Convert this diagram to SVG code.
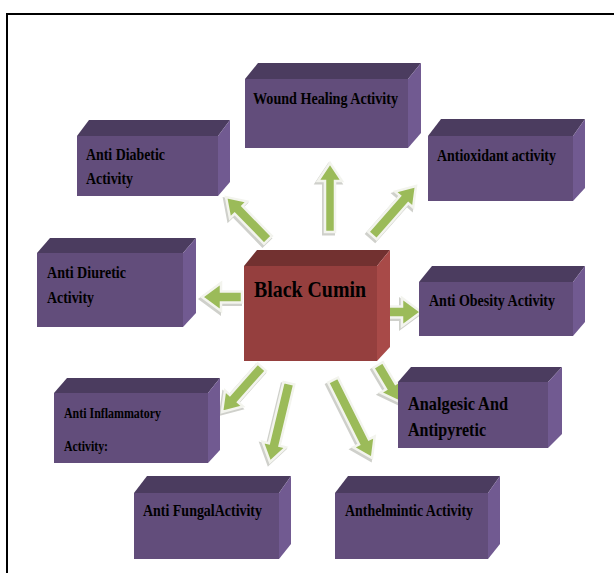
<svg xmlns="http://www.w3.org/2000/svg" xmlns:xlink="http://www.w3.org/1999/xlink" width="614" height="573" viewBox="0 0 614 573">
<style>
.front{fill:#624D7B}
.top{fill:#4B3C5F}
.side{fill:#715A91}
.bfront{fill:#953F3E}
.btop{fill:#723130}
.bside{fill:#A84A48}
.t{font-family:"Liberation Serif","Times New Roman",serif;font-weight:bold;fill:#000;font-size:16px}
.ash{fill:#cfd0cb;stroke:#cfd0cb;stroke-width:3;stroke-linejoin:miter}
.arr{fill:#9BBB59;stroke:#f3f4ee;stroke-width:2.5;stroke-linejoin:miter}
</style>
<defs>
<path id="a1" transform="translate(330,163) rotate(-90)" d="M0,0 L-18,-12 L-18,-5 L-69,-5 L-69,5 L-18,5 L-18,12 Z"/>
<path id="a2" transform="translate(416,186) rotate(-48.7)" d="M0,0 L-18,-12 L-18,-5.5 L-66,-5.5 L-66,5.5 L-18,5.5 L-18,12 Z"/>
<path id="a3" transform="translate(226,197) rotate(-134.3)" d="M0,0 L-18,-12 L-18,-5.5 L-60,-5.5 L-60,5.5 L-18,5.5 L-18,12 Z"/>
<path id="a4" transform="translate(202,297) rotate(180)" d="M0,0 L-19,-14 L-19,-5.5 L-40,-5.5 L-40,5.5 L-19,5.5 L-19,14 Z"/>
<path id="a5" transform="translate(421,312) rotate(0)" d="M0,0 L-19,-14 L-19,-5.5 L-34,-5.5 L-34,5.5 L-19,5.5 L-19,14 Z"/>
<path id="a6" transform="translate(400,402) rotate(59.3)" d="M0,0 L-18,-12 L-18,-5.5 L-43,-5.5 L-43,5.5 L-18,5.5 L-18,12 Z"/>
<path id="a7" transform="translate(222,412) rotate(131.6)" d="M0,0 L-18,-12 L-18,-5.5 L-60,-5.5 L-60,5.5 L-18,5.5 L-18,12 Z"/>
<path id="a8" transform="translate(270,462) rotate(103.5)" d="M0,0 L-18,-12 L-18,-5.5 L-81,-5.5 L-81,5.5 L-18,5.5 L-18,12 Z"/>
<path id="a9" transform="translate(372,458) rotate(63.4)" d="M0,0 L-18,-12 L-18,-5.5 L-87,-5.5 L-87,5.5 L-18,5.5 L-18,12 Z"/>
</defs>
<rect width="614" height="573" fill="#fff"/>
<path d="M7,573 L7,14 L614,14" fill="none" stroke="#000" stroke-width="2"/>

<g id="connectors">
<use xlink:href="#a1" href="#a1" class="ash" transform="translate(-1.5,2)"/><use xlink:href="#a1" href="#a1" class="arr"/>
<use xlink:href="#a2" href="#a2" class="ash" transform="translate(-1.5,2)"/><use xlink:href="#a2" href="#a2" class="arr"/>
<use xlink:href="#a3" href="#a3" class="ash" transform="translate(-1.5,2)"/><use xlink:href="#a3" href="#a3" class="arr"/>
<use xlink:href="#a4" href="#a4" class="ash" transform="translate(-1.5,2)"/><use xlink:href="#a4" href="#a4" class="arr"/>
<use xlink:href="#a5" href="#a5" class="ash" transform="translate(-1.5,2)"/><use xlink:href="#a5" href="#a5" class="arr"/>
<use xlink:href="#a6" href="#a6" class="ash" transform="translate(-1.5,2)"/><use xlink:href="#a6" href="#a6" class="arr"/>
<use xlink:href="#a7" href="#a7" class="ash" transform="translate(-1.5,2)"/><use xlink:href="#a7" href="#a7" class="arr"/>
<use xlink:href="#a8" href="#a8" class="ash" transform="translate(-1.5,2)"/><use xlink:href="#a8" href="#a8" class="arr"/>
<use xlink:href="#a9" href="#a9" class="ash" transform="translate(-1.5,2)"/><use xlink:href="#a9" href="#a9" class="arr"/>
</g>

<g id="wound-healing">
<polygon class="top" points="245,79 258,63 421,63 408,79"/>
<polygon class="side" points="408,79 421,63 421,133 408,148"/>
<rect class="front" x="245" y="79" width="163" height="69"/>
<text class="t" x="253" y="104" textLength="145" lengthAdjust="spacingAndGlyphs">Wound Healing Activity</text>
</g>

<g id="anti-diabetic">
<polygon class="top" points="77,136 89,120 230,120 218,136"/>
<polygon class="side" points="218,136 230,120 230,182 218,196"/>
<rect class="front" x="77" y="136" width="141" height="60"/>
<text class="t" x="86" y="160" textLength="79" lengthAdjust="spacingAndGlyphs">Anti Diabetic</text>
<text class="t" x="86" y="184" textLength="47" lengthAdjust="spacingAndGlyphs">Activity</text>
</g>

<g id="antioxidant">
<polygon class="top" points="428,136 441,119 585,119 573,136"/>
<polygon class="side" points="573,136 585,119 585,188 573,201"/>
<rect class="front" x="428" y="136" width="145" height="65"/>
<text class="t" x="437" y="161" textLength="119" lengthAdjust="spacingAndGlyphs">Antioxidant activity</text>
</g>

<g id="anti-diuretic">
<polygon class="top" points="37,253 50,238 196,238 183,253"/>
<polygon class="side" points="183,253 196,238 196,313 183,327"/>
<rect class="front" x="37" y="253" width="146" height="74"/>
<text class="t" x="47" y="278" textLength="79" lengthAdjust="spacingAndGlyphs">Anti Diuretic</text>
<text class="t" x="47" y="303" textLength="47" lengthAdjust="spacingAndGlyphs">Activity</text>
</g>

<g id="black-cumin">
<polygon class="btop" points="244,266 257,250 390,250 377,266"/>
<polygon class="bside" points="377,266 390,250 390,347 377,361"/>
<rect class="bfront" x="244" y="266" width="133" height="95"/>
<text class="t" x="254" y="297" style="font-size:24px" textLength="112" lengthAdjust="spacingAndGlyphs">Black Cumin</text>
</g>

<g id="anti-obesity">
<polygon class="top" points="419,282 432,266 585,266 573,282"/>
<polygon class="side" points="573,282 585,266 585,322 573,336"/>
<rect class="front" x="419" y="282" width="154" height="54"/>
<text class="t" x="429" y="306" textLength="126" lengthAdjust="spacingAndGlyphs">Anti Obesity Activity</text>
</g>

<g id="analgesic">
<polygon class="top" points="398,382 411,367 562,367 548,382"/>
<polygon class="side" points="548,382 562,367 562,434 548,448"/>
<rect class="front" x="398" y="382" width="150" height="66"/>
<text class="t" x="408" y="410" style="font-size:19px" textLength="100" lengthAdjust="spacingAndGlyphs">Analgesic And</text>
<text class="t" x="408" y="436" style="font-size:19px" textLength="78" lengthAdjust="spacingAndGlyphs">Antipyretic</text>
</g>

<g id="anti-inflammatory">
<polygon class="top" points="54,393 67,378 220,378 208,393"/>
<polygon class="side" points="208,393 220,378 220,450 208,463"/>
<rect class="front" x="54" y="393" width="154" height="70"/>
<text class="t" x="64" y="418" style="font-size:14px" textLength="97" lengthAdjust="spacingAndGlyphs">Anti Inflammatory</text>
<text class="t" x="64" y="451" style="font-size:14px" textLength="44" lengthAdjust="spacingAndGlyphs">Activity:</text>
</g>

<g id="anti-fungal">
<polygon class="top" points="134,493 147,476 291,476 279,493"/>
<polygon class="side" points="279,493 291,476 291,544 279,559"/>
<rect class="front" x="134" y="493" width="145" height="66"/>
<text class="t" x="143" y="516" textLength="119" lengthAdjust="spacingAndGlyphs">Anti FungalActivity</text>
</g>

<g id="anthelmintic">
<polygon class="top" points="335,493 348,476 500,476 488,493"/>
<polygon class="side" points="488,493 500,476 500,544 488,559"/>
<rect class="front" x="335" y="493" width="153" height="66"/>
<text class="t" x="345" y="516" textLength="128" lengthAdjust="spacingAndGlyphs">Anthelmintic Activity</text>
</g>
</svg>
